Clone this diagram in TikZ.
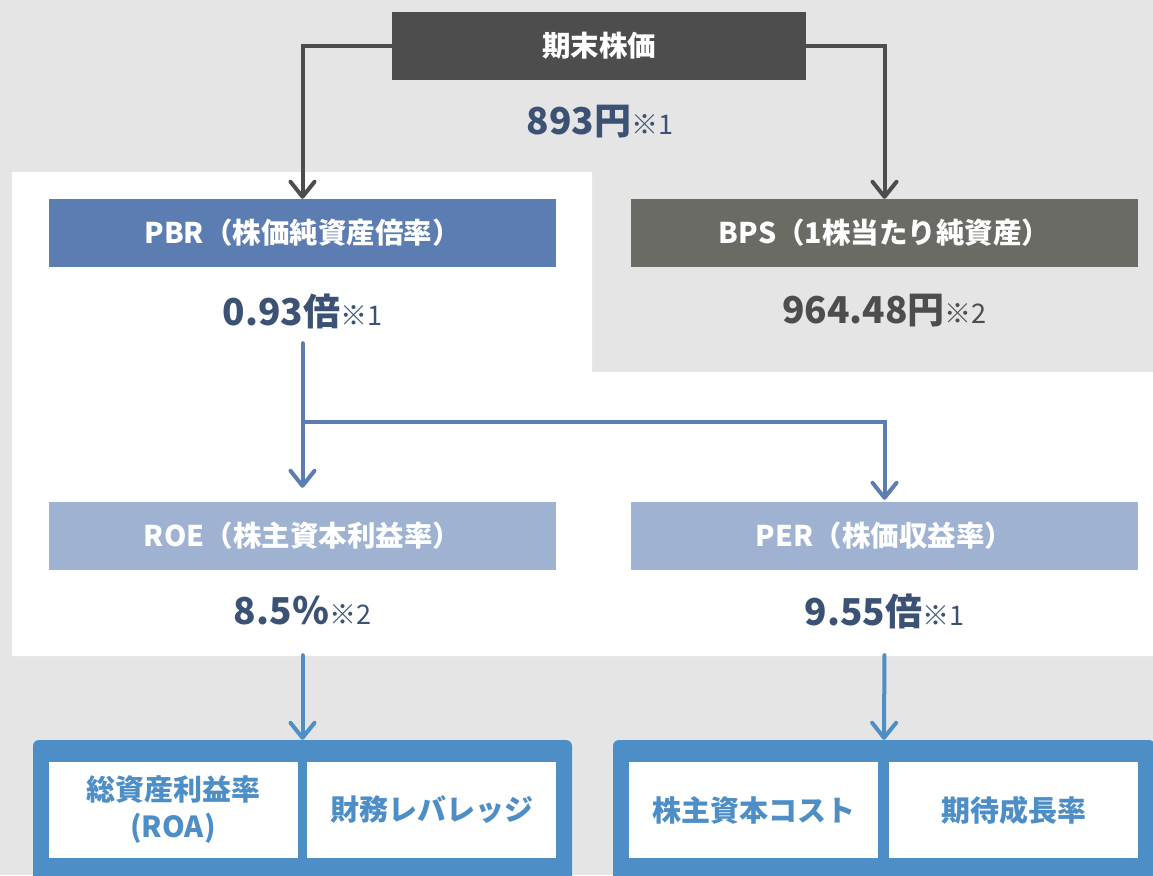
\documentclass[tikz,border=0pt]{standalone}
\usepackage{fontspec}
\setmainfont{Noto Sans CJK JP}
\usetikzlibrary{arrows.meta}

\definecolor{bggray}{HTML}{E5E5E5}
\definecolor{topgray}{HTML}{4D4D4D}
\definecolor{bpsgray}{HTML}{6B6B65}
\definecolor{pbrblue}{HTML}{5B7DB1}
\definecolor{roeblue}{HTML}{9FB2D2}
\definecolor{navy}{HTML}{3B5274}
\definecolor{groupblue}{HTML}{4D8EC6}

\newcommand{\kome}[1]{{\fontsize{27}{30}\selectfont\mdseries #1}}

\begin{document}
\begin{tikzpicture}[x=1pt,y=-1pt]
\tikzstyle{box}=[rectangle,minimum width=507pt,minimum height=68pt,anchor=center,inner sep=0pt,text=white,font=\fontsize{28.5}{32}\selectfont\bfseries]
\tikzstyle{value}=[minimum height=64pt,anchor=center,inner sep=0pt,text=navy,font=\fontsize{37}{42}\selectfont\bfseries]
\tikzstyle{group}=[rectangle,rounded corners=6pt,fill=groupblue,minimum height=150pt,anchor=center]
\tikzstyle{cell}=[rectangle,fill=white,minimum width=249pt,minimum height=96pt,anchor=center,inner sep=0pt,text=groupblue,align=center,font=\fontsize{29}{37}\selectfont\bfseries]
\tikzstyle{tip}=[-{Straight Barb[length=15pt,width=24pt,round]}]
\tikzstyle{greyline}=[draw=topgray,line width=4pt,tip]
\tikzstyle{blueline}=[draw=pbrblue,line width=4pt,tip]
\tikzstyle{groupline}=[draw=groupblue,line width=4pt,tip,line cap=round]

\useasboundingbox (0,0) rectangle (1153,875);
\clip (0,0) rectangle (1153,875);
\fill[bggray] (0,0) rectangle (1153,875);
\fill[white] (12,172) -- (592,172) -- (592,372) -- (1153,372) -- (1153,656) -- (12,656) -- cycle;

\node [box,fill=topgray,minimum width=414pt] at (599,46) (price) {期末株価};
\node [value] at (600,122) (priceLabel) {893円\kome{※1}};

\node [box,fill=pbrblue] at (302.5,233) (pbr) {PBR（株価純資産倍率）};
\node [value] at (302.5,311) (pbrLabel) {0.93倍\kome{※1}};

\node [box,fill=bpsgray] at (884.5,233) (bps) {BPS（1株当たり純資産）};
\node [value,text=topgray] at (884.5,311) (bpsLabel) {964.48円\kome{※2}};

\node [box,fill=roeblue] at (302.5,536) (roe) {ROE（株主資本利益率）};
\node [value] at (302.5,611) (roeLabel) {8.5％\kome{※2}};

\node [box,fill=roeblue] at (884.5,536) (per) {PER（株価収益率）};
\node [value] at (884.5,611) (perLabel) {9.55倍\kome{※1}};

\node [group,minimum width=539pt] at (302.5,815) (roeGroup) {};
\node [cell] at (173,810) (roa) {総資産利益率\\(ROA)};
\node [cell] at (431.5,810) (lev) {財務レバレッジ};

\node [group,minimum width=542pt] at (884,815) (perGroup) {};
\node [cell] at (753.5,810) (cost) {株主資本コスト};
\node [cell] at (1013.5,810) (growth) {期待成長率};

\draw [greyline] (price.west) -| (pbr.north);
\draw [greyline] (price.east) -| (bps.north);

\coordinate (split) at (302.5,422);
\draw [draw=pbrblue,line width=4pt,line cap=round] (pbrLabel.south) -- (split);
\draw [blueline,shorten >=14pt] (split) -- (roe.north);
\draw [blueline,shorten >=2pt] (split) -| (per.north);

\draw [groupline,shorten <=12pt] (roeLabel.south) -- (roeGroup.north);
\draw [groupline,shorten <=12pt] (perLabel.south) -- (perGroup.north);
\end{tikzpicture}
\end{document}
